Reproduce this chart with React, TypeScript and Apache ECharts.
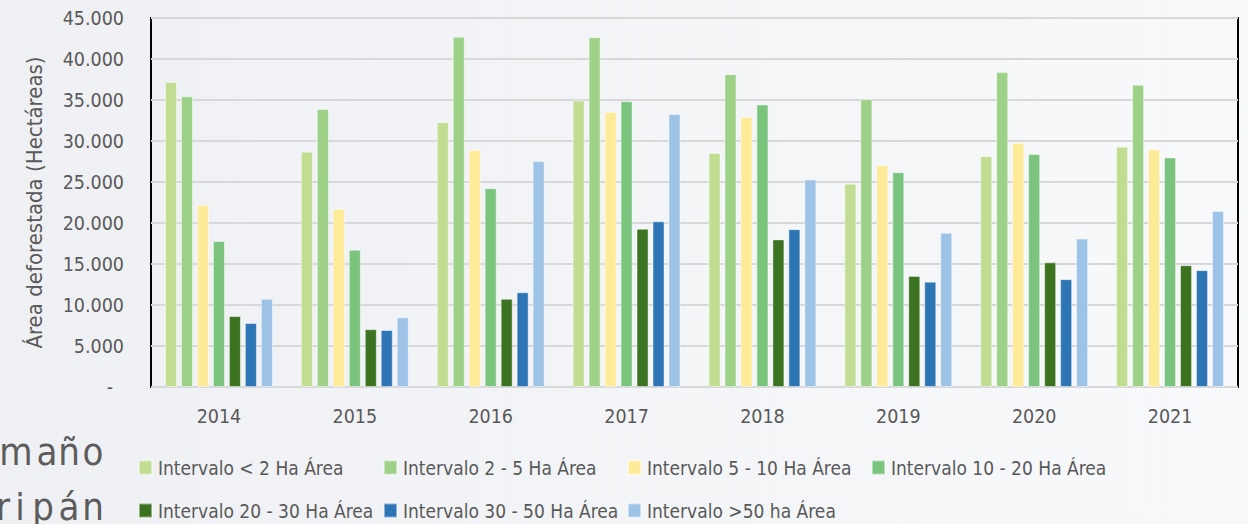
import React, { useEffect, useRef } from 'react';
import * as echarts from 'echarts';

const categories = ['2014', '2015', '2016', '2017', '2018', '2019', '2020', '2021'];

const seriesNames = [
  'Intervalo < 2 Ha Área',
  'Intervalo 2 - 5 Ha Área',
  'Intervalo 5 - 10 Ha Área',
  'Intervalo 10 - 20 Ha Área',
  'Intervalo 20 - 30 Ha Área',
  'Intervalo 30 - 50 Ha Área',
  'Intervalo >50 ha Área',
];

const lt2 = [37200, 28700, 32300, 34950, 28550, 24800, 28150, 29300];
const r2to5 = [35450, 33900, 42700, 42650, 38150, 35100, 38400, 36850];
const r5to10 = [22200, 21700, 28900, 33550, 32950, 27050, 29750, 29000];
const r10to20 = [17800, 16750, 24250, 34850, 34450, 26200, 28400, 28000];
const r20to30 = [8650, 7050, 10750, 19300, 18000, 13550, 15200, 14850];
const r30to50 = [7800, 6950, 11550, 20200, 19250, 12850, 13150, 14250];
const gt50 = [10750, 8500, 27550, 33300, 25300, 18800, 18100, 21450];

const seriesValues = [lt2, r2to5, r5to10, r10to20, r20to30, r30to50, gt50];

const colors = ['#c1dd91', '#9cd187', '#feeb98', '#7ac47e', '#3b7321', '#2e75b6', '#9dc3e6'];

const sideLine1 = ['m', 'a', 'ñ', 'o'];
const sideLine2 = ['r', 'i', 'p', 'á', 'n'];

const FONT = "'DejaVu Sans Condensed', 'Liberation Sans Narrow', 'Arial Narrow', 'Liberation Sans', sans-serif";
const TEXT = '#595959';

const fmt = (v: number) => String(v).replace(/\B(?=(\d{3})+(?!\d))/g, '.');

export default function App() {
  const ref = useRef<HTMLDivElement>(null);
  useEffect(() => {
    const chart = echarts.init(ref.current as HTMLDivElement, null, { renderer: 'svg' });

    const legendCols = [[0, 4], [1, 5], [2, 6], [3]];
    const legendLefts = [138, 383, 627, 871];

    const line1X = [16, 47, 69, 93];
    const line2X = [3, 20, 43, 69, 93];

    chart.setOption({
      animation: false,
      backgroundColor: new echarts.graphic.LinearGradient(0, 0, 1, 0, [
        { offset: 0, color: '#eff0f3' },
        { offset: 1, color: '#f8f9fb' },
      ]),
      textStyle: { fontFamily: FONT },
      grid: {
        left: 151,
        right: 10,
        top: 18,
        bottom: 137,
        show: true,
        borderColor: '#000',
        borderWidth: 2,
        backgroundColor: 'transparent',
      },
      legend: legendCols.map((col, i) => ({
        data: col.map((k) => seriesNames[k]),
        orient: 'vertical',
        left: legendLefts[i],
        top: 458,
        padding: 0,
        itemGap: 24,
        itemWidth: 13,
        itemHeight: 14,
        icon: 'rect',
        selectedMode: false,
        textStyle: { fontFamily: FONT, fontSize: 19, color: TEXT, padding: [0, 0, 0, 1] },
      })),
      xAxis: {
        type: 'category',
        data: categories,
        axisLine: { show: false },
        axisTick: { show: false },
        axisLabel: { fontFamily: FONT, fontSize: 19.5, color: TEXT, margin: 19 },
      },
      yAxis: {
        type: 'value',
        min: 0,
        max: 45000,
        interval: 5000,
        name: 'Área deforestada (Hectáreas)',
        nameLocation: 'middle',
        nameGap: 106,
        nameTextStyle: { fontFamily: FONT, fontSize: 22, color: TEXT },
        axisLine: { show: false },
        axisTick: { show: false },
        splitLine: { lineStyle: { color: '#d8d8da', width: 2 } },
        axisLabel: {
          fontFamily: FONT,
          fontSize: 19.5,
          color: TEXT,
          margin: 27,
          formatter: (v: number) => (v === 0 ? '{z|-}' : fmt(v)),
          rich: { z: { fontFamily: FONT, fontSize: 19.5, color: TEXT, padding: [0, 11, 0, 0] } },
        },
      },
      series: seriesValues.map((vals, i) => ({
        name: seriesNames[i],
        type: 'bar',
        data: vals,
        barGap: '33%',
        barCategoryGap: '20.6%',
        itemStyle: { color: colors[i], borderColor: 'rgba(255,255,255,0.45)', borderWidth: 1 },
      })),
      graphic: [
        ...sideLine1.map((ch, i) => ({
          type: 'text',
          x: line1X[i],
          y: 452,
          style: { text: ch, fontFamily: FONT, fontSize: 38, fill: '#5c5c5c', textAlign: 'center', textVerticalAlign: 'middle' },
        })),
        ...sideLine2.map((ch, i) => ({
          type: 'text',
          x: line2X[i],
          y: 507,
          style: { text: ch, fontFamily: FONT, fontSize: 38, fill: '#5c5c5c', textAlign: 'center', textVerticalAlign: 'middle' },
        })),
      ],
    });
    return () => chart.dispose();
  }, []);
  return <div ref={ref} style={{ position: 'absolute', left: 0, top: 0, width: 1248, height: 524 }} />;
}
